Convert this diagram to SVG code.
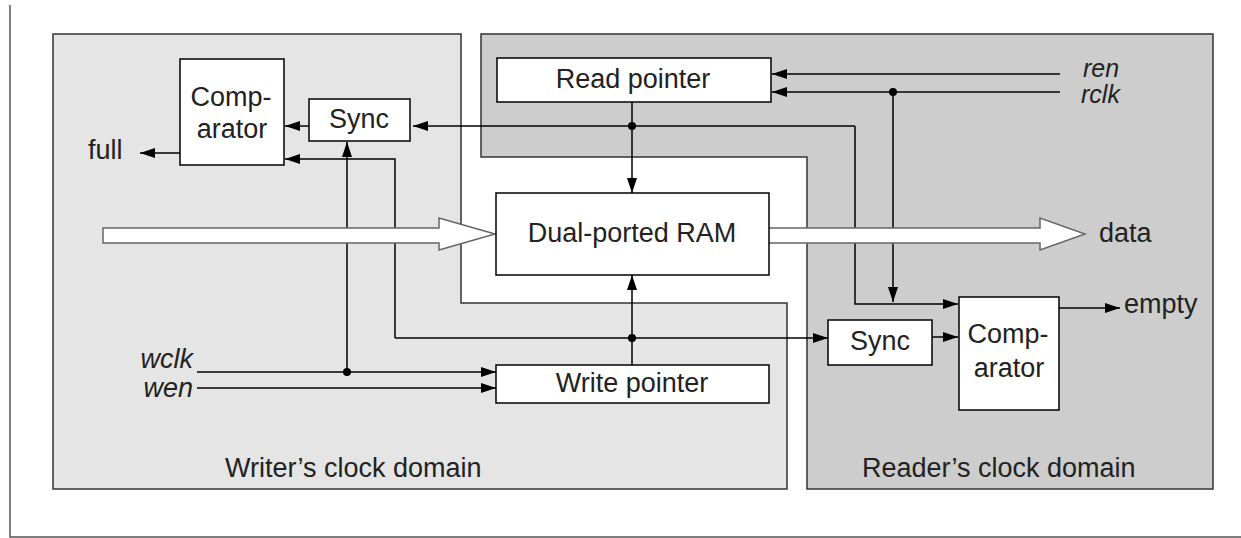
<svg xmlns="http://www.w3.org/2000/svg" width="1241" height="538" viewBox="0 0 1241 538">
<defs>
<marker id="ah" markerUnits="userSpaceOnUse" markerWidth="15" markerHeight="10" refX="15" refY="5" orient="auto">
<path d="M0,0 L15,5 L0,10 z" fill="#000"/>
</marker>
<style>
.dom{stroke:#333;stroke-width:1.5}
.box{fill:#fff;stroke:#000;stroke-width:1.5}
.ln{fill:none;stroke:#000;stroke-width:1.5}
.ar{fill:none;stroke:#000;stroke-width:1.5;marker-end:url(#ah)}
.t{font-family:"Liberation Sans",Arial,sans-serif;font-size:27px;fill:#222}
.c{text-anchor:middle}
.i{font-style:italic}
.s{font-size:25px}
.hollow{fill:#fff;stroke:#666;stroke-width:1.5}
.dot{fill:#000}
</style>
</defs>
<rect width="1241" height="538" fill="#fff"/>
<path d="M10,5 V537 H1241" fill="none" stroke="#555" stroke-width="1.5"/>
<g id="writer-domain">
<path class="dom" fill="#e5e5e5" d="M53,34 H461 V303 H787 V489 H53 Z"/>
<text class="t" x="225" y="477">Writer’s clock domain</text>
</g>
<g id="reader-domain">
<path class="dom" fill="#cdcdcd" d="M481,34 H1213 V489 H807 V157 H481 Z"/>
<text class="t" x="862" y="477">Reader’s clock domain</text>
</g>
<g id="connectors">
<path class="ar" d="M1060,74 H772"/>
<path class="ar" d="M1060,92 H772"/>
<path class="ar" d="M893,92 V302"/>
<path class="ar" d="M632,102 V193"/>
<path class="ar" d="M855,126 H413"/>
<path class="ar" d="M855,126 V304 H958"/>
<path class="ar" d="M309,126 H285"/>
<path class="ar" d="M180,153 H140"/>
<path class="ar" d="M197,372 H496"/>
<path class="ar" d="M197,388 H496"/>
<path class="ar" d="M347,372 V142"/>
<path class="ar" d="M632,365 V275"/>
<path class="ar" d="M395,338 H828"/>
<path class="ar" d="M395,338 V159 H285"/>
<path class="ar" d="M932,337 H958"/>
<path class="ar" d="M1059,308 H1120"/>
<circle class="dot" cx="632" cy="126" r="4"/>
<circle class="dot" cx="893" cy="92" r="4"/>
<circle class="dot" cx="347" cy="372" r="4"/>
<circle class="dot" cx="632" cy="338" r="4"/>
<path class="hollow" d="M103,228 H439 V218 L495,234 L439,250 V243 H103 Z"/>
<path fill="#fff" d="M769,228 H1040 V218 L1085,234 L1040,250 V243 H769 Z"/>
<path fill="none" stroke="#666" stroke-width="1.5" d="M769,228 H1040 V218 L1085,234 L1040,250 V243 H769"/>
</g>
<g id="read-pointer">
<rect class="box" x="497" y="58" width="274" height="44"/>
<text class="t c" x="633" y="88">Read pointer</text>
</g>
<g id="ram">
<rect class="box" x="496" y="193" width="273" height="82"/>
<text class="t c" x="632" y="242">Dual-ported RAM</text>
</g>
<g id="write-pointer">
<rect class="box" x="496" y="365" width="273" height="38"/>
<text class="t c" x="632" y="392">Write pointer</text>
</g>
<g id="comparator-w">
<rect class="box" x="180" y="59" width="104" height="106"/>
<text class="t c" x="231" y="106">Comp-</text>
<text class="t c" x="232" y="138">arator</text>
</g>
<g id="sync-w">
<rect class="box" x="309" y="99" width="101" height="42"/>
<text class="t c" x="359" y="128">Sync</text>
</g>
<g id="sync-r">
<rect class="box" x="828" y="320" width="104" height="45"/>
<text class="t c" x="880" y="350">Sync</text>
</g>
<g id="comparator-r">
<rect class="box" x="959" y="297" width="100" height="113"/>
<text class="t c" x="1008" y="343">Comp-</text>
<text class="t c" x="1009" y="377">arator</text>
</g>
<g id="labels">
<text class="t" x="88" y="159">full</text>
<text class="t i s" x="1083" y="77">ren</text>
<text class="t i s" x="1081" y="103">rclk</text>
<text class="t" x="1099" y="242">data</text>
<text class="t" x="1124" y="313">empty</text>
<text class="t i" x="193" y="368" text-anchor="end">wclk</text>
<text class="t i" x="193" y="397" text-anchor="end">wen</text>
</g>
</svg>
